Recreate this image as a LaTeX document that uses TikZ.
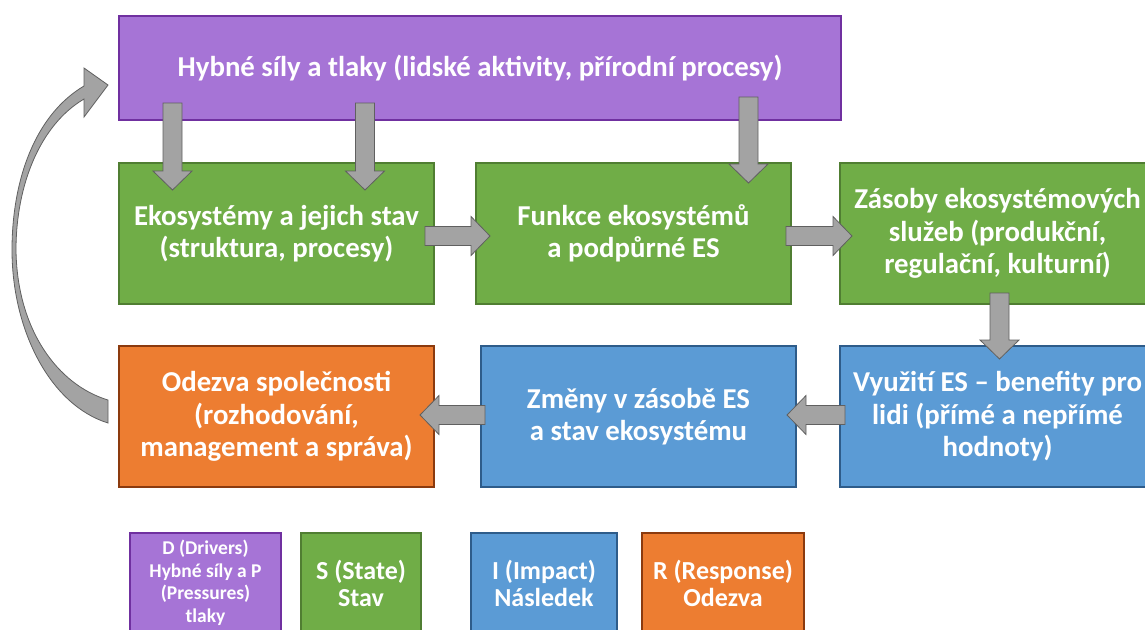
\documentclass[tikz,border=0pt]{standalone}
\usepackage{fontspec}
\setmainfont{Carlito}
\usetikzlibrary{calc}
\definecolor{pfill}{HTML}{A674D6}
\definecolor{pline}{HTML}{7030A0}
\definecolor{gfill}{HTML}{70AD47}
\definecolor{gline}{HTML}{507E32}
\definecolor{bfill}{HTML}{5B9BD5}
\definecolor{bline}{HTML}{2E5C8A}
\definecolor{ofill}{HTML}{ED7D31}
\definecolor{oline}{HTML}{8B3A0E}
\definecolor{afill}{HTML}{A3A3A3}
\definecolor{aline}{HTML}{606060}
\newcommand\barrow[2]{%
  \path let \p1=(#1), \p2=(#2), \n1={atan2(\y2-\y1,\x2-\x1)}, \n2={veclen(\x2-\x1,\y2-\y1)} in
    \pgfextra{\xdef\baang{\n1}\xdef\balen{\n2}\xdef\bax{\x1}\xdef\bay{\y1}};
  \begin{scope}[shift={(\bax,\bay)}, rotate=\baang]
    \draw[arrowbox] (0,-9.5) -- (\balen-19,-9.5) -- (\balen-19,-19.5) -- (\balen,0)
      -- (\balen-19,19.5) -- (\balen-19,9.5) -- (0,9.5) -- cycle;
  \end{scope}}
\begin{document}
\begin{tikzpicture}[x=1pt,y=-1pt,
  box/.style={draw, line width=2.5pt, text=white, align=center, inner sep=0pt,
    font=\bfseries\fontsize{28.8}{32.5}\selectfont},
  lbox/.style={box, line width=2.5pt, minimum height=100pt,
    font=\bfseries\fontsize{26}{27}\selectfont},
  pbox/.style={fill=pfill, draw=pline},
  gbox/.style={fill=gfill, draw=gline},
  bbox/.style={fill=bfill, draw=bline},
  obox/.style={fill=ofill, draw=oline},
  mbox/.style={box, minimum width=315pt, minimum height=141pt},
  arrowbox/.style={fill=afill, draw=aline, line width=0.8pt, line join=miter}]
\useasboundingbox (0,0) rectangle (1145,629);
\clip (0,0) rectangle (1145,629);
% main boxes
\node[box, pbox, minimum width=722pt, minimum height=104pt] (drv) at (480,68)
  {Hybné síly a tlaky (lidské aktivity, přírodní procesy)};
\node[mbox, gbox] (s1) at (276.5,233.5) {Ekosystémy a jejich stav\\(struktura, procesy)};
\node[mbox, gbox] (s2) at (633.5,233.5) {Funkce ekosystémů\\a podpůrné ES};
\node[mbox, gbox] (s3) at (997.5,233.5) {Zásoby ekosystémových\\služeb (produkční,\\regulační, kulturní)};
\node[mbox, obox] (r1) at (276.5,416.5) {Odezva společnosti\\(rozhodování,\\management a správa)};
\node[mbox, bbox] (i1) at (638.5,416.5) {Změny v zásobě ES\\a stav ekosystému};
\node[mbox, bbox] (i2) at (997.5,416.5) {Využití ES – benefity pro\\lidi (přímé a nepřímé\\hodnoty)};
% legend
\node[lbox, pbox, minimum width=151pt, font=\bfseries\fontsize{19.5}{22.5}\selectfont] (ld) at (205.5,583)
  {D (Drivers)\\Hybné síly a P\\(Pressures)\\tlaky};
\node[lbox, gbox, minimum width=120pt] (ls) at (361,583) {S (State)\\Stav};
\node[lbox, bbox, minimum width=146pt] (li) at (544,583) {I (Impact)\\Následek};
\node[lbox, obox, minimum width=162pt] (lr) at (723,583) {R (Response)\\Odezva};
% arrow end points
\coordinate (a1s) at (172.5,103); \coordinate (a1e) at (172.5,190);
\coordinate (a2s) at (365,103);   \coordinate (a2e) at (365,190);
\coordinate (a3s) at (748.5,97);  \coordinate (a3e) at (748.5,183);
\coordinate (a4s) at (425,236);   \coordinate (a4e) at (490,236);
\coordinate (a5s) at (786,236);   \coordinate (a5e) at (852,236);
\coordinate (a6s) at (999.5,293); \coordinate (a6e) at (999.5,359);
\coordinate (a7s) at (845,415);   \coordinate (a7e) at (787,415);
\coordinate (a8s) at (485,415);   \coordinate (a8e) at (420,415);
\barrow{a1s}{a1e}
\barrow{a2s}{a2e}
\barrow{a3s}{a3e}
\barrow{a4s}{a4e}
\barrow{a5s}{a5e}
\barrow{a6s}{a6e}
\barrow{a7s}{a7e}
\barrow{a8s}{a8e}
% curved feedback arrow
\draw[arrowbox] (84,86) .. controls (35,115) and (12,180) .. (12,250)
  .. controls (12,330) and (50,405) .. (108,423) -- (108,400)
  .. controls (58,385) and (17,330) .. (16,250)
  .. controls (16,185) and (40,125) .. (84,99)
  -- (84,117) -- (108,85) -- (84,68) -- cycle;
\end{tikzpicture}
\end{document}
